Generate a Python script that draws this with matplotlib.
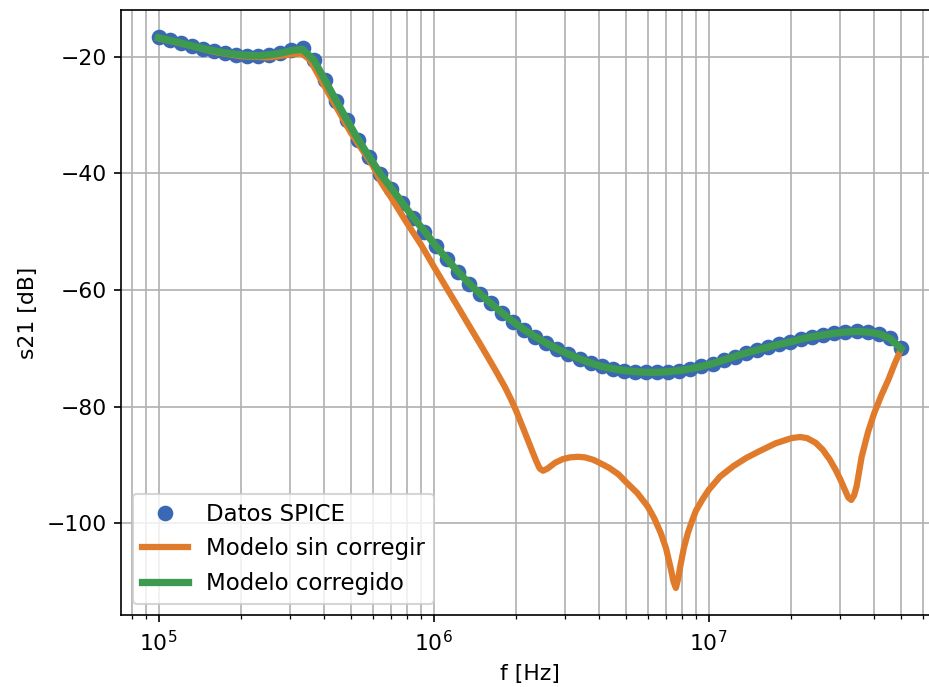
import matplotlib
matplotlib.use("Agg")
import matplotlib.pyplot as plt
import numpy as np

# SPICE AC sweep: 100 kHz .. 50 MHz, 68 log-spaced points
f_start = 1e5
f_stop = 5e7
n_points = 68

spice_db = [
    -16.6, -17.1, -17.6, -18.1, -18.6, -19.0, -19.35, -19.6, -19.8, -19.85,
    -19.7, -19.35, -18.8, -18.5, -20.6, -24.0, -27.5, -30.9, -34.2, -37.2,
    -40.1, -42.6, -45.1, -47.7, -50.0, -52.5, -54.6, -56.9, -58.9, -60.7,
    -62.3, -64.0, -65.4, -66.8, -68.0, -69.1, -70.1, -71.0, -71.8, -72.5,
    -73.1, -73.5, -73.8, -74.0, -74.1, -74.1, -74.0, -73.8, -73.5, -73.1,
    -72.6, -72.0, -71.4, -70.8, -70.3, -69.8, -69.3, -68.9, -68.4, -68.0,
    -67.7, -67.4, -67.2, -67.1, -67.2, -67.5, -68.3, -70.0,
]

# corrected model evaluated on the same sweep
corrected_db = [
    -16.7, -17.15, -17.6, -18.1, -18.55, -18.95, -19.3, -19.55, -19.75, -19.8,
    -19.65, -19.35, -18.9, -18.7, -20.5, -23.9, -27.4, -30.8, -34.1, -37.1,
    -40.0, -42.5, -45.0, -47.6, -49.9, -52.4, -54.6, -56.8, -58.8, -60.6,
    -62.3, -63.9, -65.4, -66.8, -68.0, -69.1, -70.1, -71.0, -71.8, -72.5,
    -73.1, -73.5, -73.8, -74.0, -74.1, -74.1, -74.0, -73.8, -73.5, -73.1,
    -72.6, -72.0, -71.4, -70.8, -70.3, -69.8, -69.3, -68.9, -68.4, -68.0,
    -67.7, -67.4, -67.2, -67.1, -67.2, -67.5, -68.3, -70.0,
]

# uncorrected model, sampled more densely around the notches
uncorr_f = [
    1.0e5, 1.26e5, 1.58e5, 2.0e5, 2.51e5, 3.0e5, 3.31e5, 3.55e5, 4.0e5, 5.0e5,
    6.0e5, 6.46e5, 7.0e5, 8.0e5, 9.0e5, 1.0e6, 1.12e6, 1.22e6, 1.3e6, 1.37e6,
    1.47e6, 1.57e6, 1.7e6, 1.82e6, 1.91e6, 2.0e6, 2.1e6, 2.2e6, 2.3e6, 2.37e6,
    2.43e6, 2.5e6, 2.6e6, 2.77e6, 2.95e6, 3.13e6, 3.35e6, 3.55e6, 3.8e6, 4.0e6,
    4.35e6, 4.7e6, 5.0e6, 5.5e6, 6.0e6, 6.35e6, 6.7e6, 7.0e6, 7.3e6, 7.45e6,
    7.6e6, 7.75e6, 7.9e6, 8.13e6, 8.4e6, 8.7e6, 9.0e6, 9.5e6, 1.0e7, 1.1e7,
    1.23e7, 1.37e7, 1.52e7, 1.75e7, 2.0e7, 2.15e7, 2.28e7, 2.45e7, 2.6e7, 2.75e7,
    2.9e7, 3.02e7, 3.13e7, 3.22e7, 3.3e7, 3.38e7, 3.45e7, 3.52e7, 3.6e7, 3.8e7,
    4.0e7, 4.25e7, 4.5e7, 4.75e7, 5.0e7,
]
uncorr_db = [
    -16.8, -17.9, -19.1, -19.9, -20.1, -19.6, -19.4, -20.5, -24.9, -33.0,
    -38.6, -41.6, -44.1, -48.5, -52.2, -55.9, -59.8, -62.7, -64.9, -66.7,
    -69.1, -71.4, -74.2, -76.7, -78.7, -80.8, -83.3, -85.7, -88.0, -89.5,
    -90.6, -91.0, -90.6, -89.6, -89.0, -88.7, -88.6, -88.7, -89.1, -89.6,
    -90.5, -91.6, -92.9, -94.8, -97.1, -99.2, -101.7, -104.3, -108.0, -110.0,
    -111.1, -109.5, -107.2, -104.2, -101.7, -99.6, -97.8, -95.9, -94.3, -92.0,
    -90.2, -88.8, -87.7, -86.3, -85.4, -85.2, -85.4, -86.2, -87.4, -89.0,
    -90.9, -92.6, -94.3, -95.6, -96.0, -95.2, -93.7, -91.3, -88.6, -84.3,
    -81.1, -78.0, -75.4, -72.6, -70.2,
]

freq = np.geomspace(f_start, f_stop, n_points)

plt.rcParams["font.size"] = 10.5
fig = plt.figure(figsize=(929 / 150, 687 / 150), dpi=150)
ax = fig.add_axes([0.1307, 0.1041, 0.879, 0.882])

ax.semilogx(freq, spice_db, "o", color="#3a68b5", markersize=6.5, label="Datos SPICE")
ax.semilogx(uncorr_f, uncorr_db, "-", color="#e07b2c", linewidth=3.0, label="Modelo sin corregir")
ax.semilogx(freq, corrected_db, "-", color="#3d9a4e", linewidth=3.5, label="Modelo corregido")

ax.grid(True, which="both")
ax.set_xlabel("f [Hz]")
ax.set_ylabel("s21 [dB]")
ax.legend(loc="lower left", fontsize=11)

fig.savefig("out.png", dpi=150)
